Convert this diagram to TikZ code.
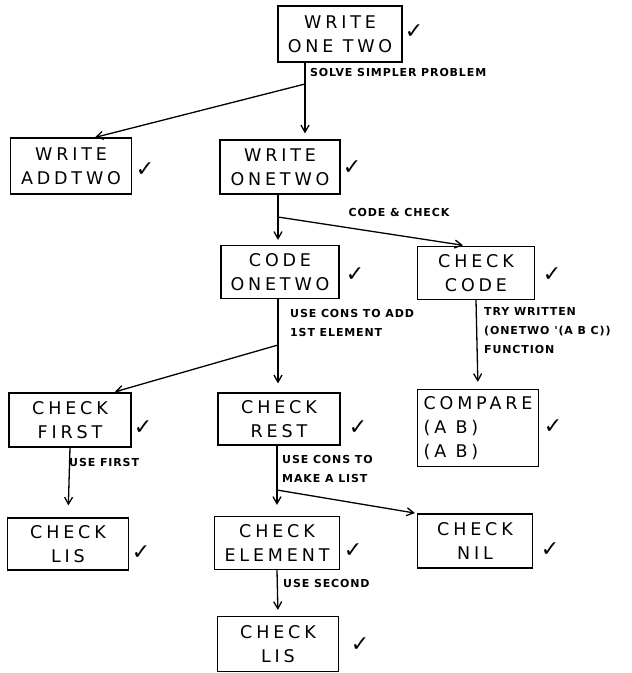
\documentclass[tikz,border=0pt]{standalone}
\usepackage{fontspec}
\setmainfont{DejaVu Sans}
\newfontfamily\boxfont[LetterSpace=22]{DejaVu Sans}
\newfontfamily\notefont[LetterSpace=8]{DejaVu Sans Bold}
\usetikzlibrary{arrows.meta}

\begin{document}
\begin{tikzpicture}[x=1pt,y=-1pt,
		>={Straight Barb[length=7pt,width=8pt]},
		box/.style={draw, line width=1.2pt, inner sep=0pt, align=center,
			font=\boxfont\fontsize{17.5}{24}\selectfont},
		tick/.style={font=\fontsize{22}{22}\selectfont},
		note/.style={anchor=west, inner sep=0pt, align=left,
			font=\notefont\fontsize{11}{19}\selectfont},
		conn/.style={line width=1.3pt}]
		\useasboundingbox (0,0) rectangle (632,673);

		\node[box, minimum width=124pt, minimum height=56pt] (top) at (340,34) {WRITE\\ONE TWO};
		\node[tick] (ttop) at (414,32) {✓};

		\node[box, minimum width=121pt, minimum height=56pt] (addtwo) at (71,166) {WRITE\\ADDTWO};
		\node[tick] (taddtwo) at (145,170) {✓};
		\node[box, minimum width=120pt, minimum height=54pt] (onetwo) at (280,167) {WRITE\\ONETWO};
		\node[tick] (tonetwo) at (352,168) {✓};

		\node[box, minimum width=118pt, minimum height=53pt] (code) at (280,272) {CODE\\ONETWO};
		\node[tick] (tcode) at (355,275) {✓};
		\node[box, minimum width=117pt, minimum height=53pt] (chkcode) at (476,273) {CHECK\\CODE};
		\node[tick] (tchkcode) at (552,275) {✓};

		\node[box, minimum width=122pt, minimum height=54pt] (first) at (70,420) {CHECK\\FIRST};
		\node[tick] (tfirst) at (143,428) {✓};
		\node[box, minimum width=122pt, minimum height=52pt] (rest) at (279,419) {CHECK\\REST};
		\node[tick] (trest) at (358,428) {✓};
		\node[box, align=left, minimum width=121pt, minimum height=77pt] (compare) at (478,428) {COMPARE\\(A B)\\(A B)};
		\node[tick] (tcompare) at (553,427) {✓};

		\node[box, minimum width=121pt, minimum height=52pt] (lis1) at (68,544) {CHECK\\LIS};
		\node[tick] (tlis1) at (141,553) {✓};
		\node[box, minimum width=125pt, minimum height=53pt] (element) at (277,543) {CHECK\\ELEMENT};
		\node[tick] (telement) at (353,551) {✓};
		\node[box, minimum width=115pt, minimum height=54pt] (nil) at (475,541) {CHECK\\NIL};
		\node[tick] (tnil) at (550,550) {✓};

		\node[box, minimum width=121pt, minimum height=55pt] (lis2) at (278,644) {CHECK\\LIS};
		\node[tick] (tlis2) at (360,645) {✓};

		% split points
		\coordinate (s1) at (305,84);
		\coordinate (s2) at (278,217);
		\coordinate (s3) at (278,345);
		\coordinate (s4) at (277,490);

		\draw[conn] (top.south -| s1) -- (s1);
		\draw[conn,->,shorten >=6pt] (s1) -- (s1 |- onetwo.north);
		\draw[conn,->] (s1) -- ([xshift=24pt]addtwo.north);
		\node[note] (n1) at (310,72) {SOLVE SIMPLER PROBLEM};

		\draw[conn] (onetwo.south -| s2) -- (s2);
		\draw[conn,->,shorten >=5pt] (s2) -- (s2 |- code.north);
		\draw[conn,->,shorten >=4pt] (s2) -- ([xshift=-9pt]chkcode.north);
		\node[note, anchor=center] (n2) at (399,212) {CODE \& CHECK};

		\draw[conn] (code.south -| s3) -- (s3);
		\draw[conn,->,shorten >=9pt] (s3) -- (s3 |- rest.north);
		\draw[conn,->,shorten >=2pt] (s3) -- ([xshift=43pt]first.north);
		\node[note] (n3) at (290,323) {USE CONS TO ADD\\1ST ELEMENT};

		\draw[conn,->,shorten >=7pt] (chkcode.south) -- (compare.north);
		\node[note] (n4) at (484,331) {TRY WRITTEN\\(ONETWO '(A B C))\\FUNCTION};

		\draw[conn,->,shorten >=12pt] (first.south) -- (lis1.north);
		\node[note] (n5) at (69,462) {USE FIRST};

		\draw[conn] (rest.south -| s4) -- (s4);
		\draw[conn,->,shorten >=11pt] (s4) -- (s4 |- element.north);
		\draw[conn,->,shorten >=2pt] (s4) -- (nil.north west);
		\node[note] (n6) at (282,469) {USE CONS TO\\MAKE A LIST};

		\draw[conn,->,shorten >=6pt] (element.south) -- (lis2.north);
		\node[note] (n7) at (283,583) {USE SECOND};
	\end{tikzpicture}
\end{document}
